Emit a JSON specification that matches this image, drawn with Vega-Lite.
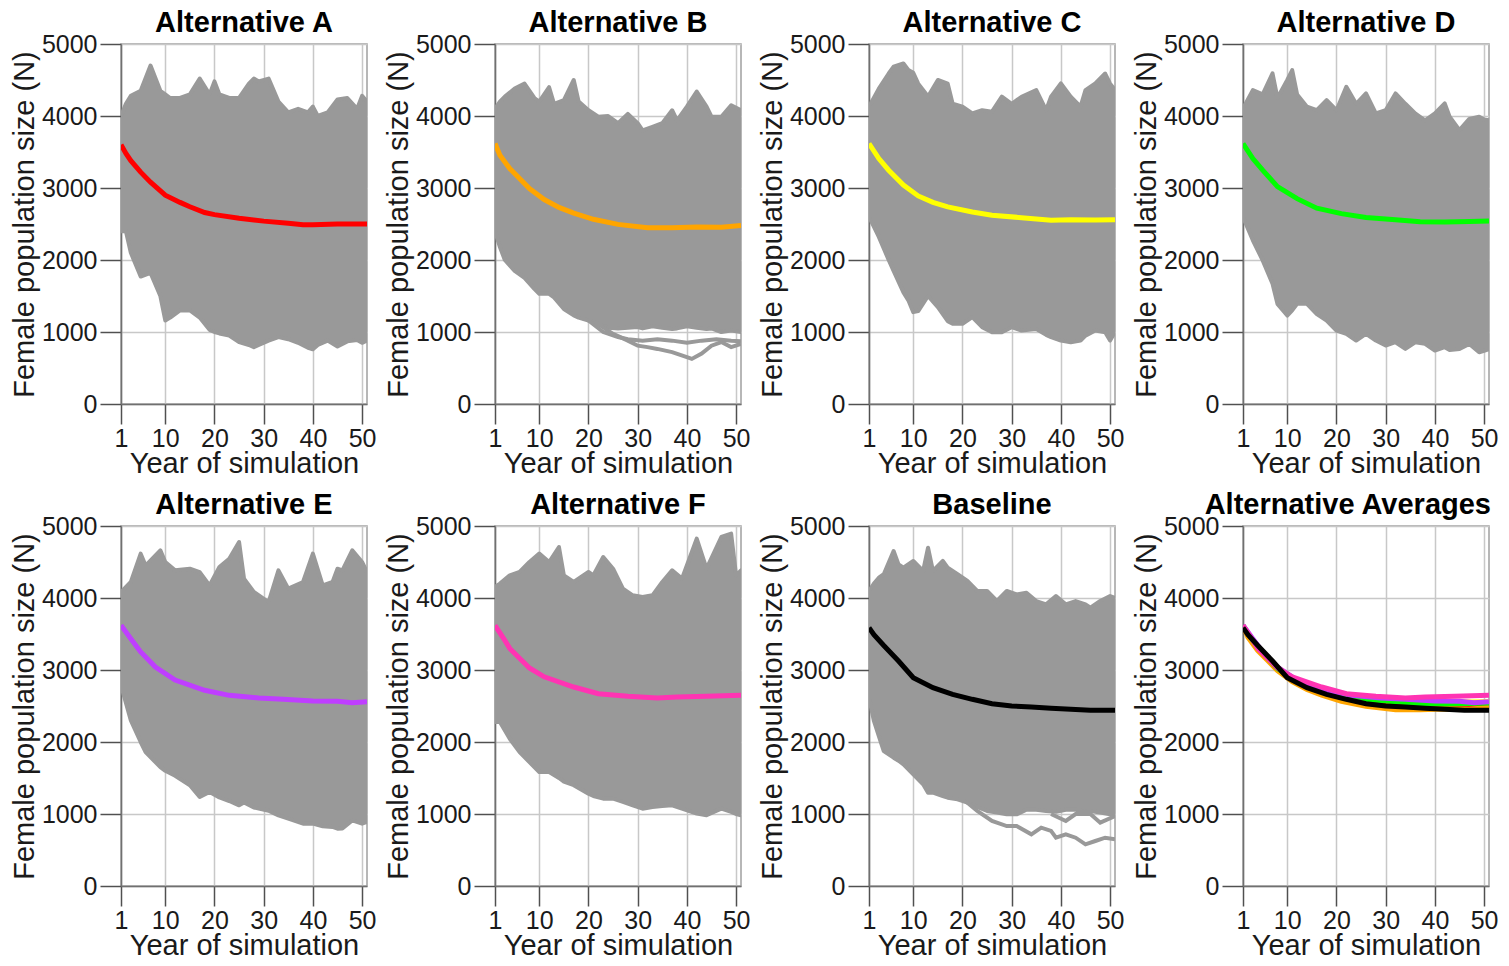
{
"$schema": "https://vega.github.io/schema/vega-lite/v6.json",
"background": "white",
"padding": {"left": 9, "top": 8, "right": 5, "bottom": 5},
"config": {
 "font": "Liberation Sans",
 "view": {"stroke": "#a0a0a0", "strokeWidth": 1.5},
 "axis": {"grid": true, "gridColor": "#c8c8c8", "gridWidth": 1.5, "domain": true, "domainColor": "#707070", "domainWidth": 1.5, "tickColor": "#505050", "tickWidth": 1.5, "labelFontSize": 25, "labelColor": "#1a1a1a", "titleFontSize": 29, "titleFontWeight": "normal", "titleColor": "#1a1a1a", "labelFlush": false, "labelOverlap": false},
 "axisX": {"tickSize": 20, "labelPadding": 2, "titlePadding": -2},
 "axisY": {"tickSize": 21, "labelPadding": 3, "titlePadding": 2},
 "title": {"fontSize": 29, "fontWeight": "bold", "color": "#000000", "offset": -6, "anchor": "middle", "frame": "group"}
},
"datasets": {
 "band": [
  {"p":"A","year":1,"lo":2400,"hi":4000},{"p":"A","year":2,"lo":2400,"hi":4170},{"p":"A","year":3,"lo":2100,"hi":4280},{"p":"A","year":5,"lo":1770,"hi":4350},{"p":"A","year":7,"lo":1820,"hi":4700},{"p":"A","year":9,"lo":1500,"hi":4350},{"p":"A","year":10,"lo":1160,"hi":4300},{"p":"A","year":11,"lo":1200,"hi":4250},{"p":"A","year":13,"lo":1300,"hi":4250},{"p":"A","year":15,"lo":1300,"hi":4300},{"p":"A","year":17,"lo":1200,"hi":4520},{"p":"A","year":19,"lo":1030,"hi":4300},{"p":"A","year":20,"lo":1000,"hi":4480},{"p":"A","year":21,"lo":980,"hi":4300},{"p":"A","year":23,"lo":950,"hi":4250},{"p":"A","year":25,"lo":860,"hi":4250},{"p":"A","year":27,"lo":820,"hi":4450},{"p":"A","year":28,"lo":790,"hi":4520},{"p":"A","year":29,"lo":820,"hi":4480},{"p":"A","year":31,"lo":880,"hi":4520},{"p":"A","year":33,"lo":930,"hi":4200},{"p":"A","year":35,"lo":900,"hi":4050},{"p":"A","year":37,"lo":850,"hi":4100},{"p":"A","year":39,"lo":780,"hi":4050},{"p":"A","year":40,"lo":760,"hi":4130},{"p":"A","year":41,"lo":820,"hi":4000},{"p":"A","year":43,"lo":880,"hi":4050},{"p":"A","year":45,"lo":800,"hi":4230},{"p":"A","year":47,"lo":870,"hi":4250},{"p":"A","year":49,"lo":890,"hi":4100},{"p":"A","year":50,"lo":850,"hi":4280},{"p":"A","year":51,"lo":880,"hi":4200},
  {"p":"B","year":1,"lo":2400,"hi":4100},{"p":"B","year":2,"lo":2180,"hi":4200},{"p":"B","year":3,"lo":2000,"hi":4270},{"p":"B","year":5,"lo":1850,"hi":4380},{"p":"B","year":7,"lo":1750,"hi":4450},{"p":"B","year":9,"lo":1600,"hi":4250},{"p":"B","year":10,"lo":1530,"hi":4200},{"p":"B","year":12,"lo":1530,"hi":4400},{"p":"B","year":13,"lo":1480,"hi":4170},{"p":"B","year":15,"lo":1320,"hi":4220},{"p":"B","year":17,"lo":1230,"hi":4500},{"p":"B","year":18,"lo":1200,"hi":4200},{"p":"B","year":20,"lo":1160,"hi":4080},{"p":"B","year":22,"lo":1110,"hi":3990},{"p":"B","year":24,"lo":1060,"hi":4000},{"p":"B","year":26,"lo":1050,"hi":3900},{"p":"B","year":28,"lo":1060,"hi":4030},{"p":"B","year":30,"lo":1070,"hi":3900},{"p":"B","year":31,"lo":1050,"hi":3800},{"p":"B","year":33,"lo":1080,"hi":3850},{"p":"B","year":35,"lo":1060,"hi":3900},{"p":"B","year":37,"lo":1040,"hi":4080},{"p":"B","year":38,"lo":1050,"hi":3940},{"p":"B","year":40,"lo":1080,"hi":4130},{"p":"B","year":42,"lo":1060,"hi":4340},{"p":"B","year":44,"lo":1040,"hi":4130},{"p":"B","year":45,"lo":1050,"hi":3990},{"p":"B","year":47,"lo":1000,"hi":3990},{"p":"B","year":49,"lo":1020,"hi":4150},{"p":"B","year":51,"lo":1000,"hi":4080},
  {"p":"C","year":1,"lo":2600,"hi":4130},{"p":"C","year":3,"lo":2320,"hi":4380},{"p":"C","year":5,"lo":2000,"hi":4590},{"p":"C","year":6,"lo":1850,"hi":4685},{"p":"C","year":8,"lo":1550,"hi":4730},{"p":"C","year":9,"lo":1440,"hi":4640},{"p":"C","year":10,"lo":1276,"hi":4600},{"p":"C","year":11,"lo":1290,"hi":4450},{"p":"C","year":13,"lo":1500,"hi":4270},{"p":"C","year":15,"lo":1345,"hi":4500},{"p":"C","year":17,"lo":1150,"hi":4450},{"p":"C","year":18,"lo":1113,"hi":4170},{"p":"C","year":20,"lo":1113,"hi":4130},{"p":"C","year":22,"lo":1206,"hi":4035},{"p":"C","year":24,"lo":1067,"hi":4080},{"p":"C","year":26,"lo":997,"hi":4060},{"p":"C","year":28,"lo":997,"hi":4270},{"p":"C","year":30,"lo":1067,"hi":4170},{"p":"C","year":32,"lo":1020,"hi":4267},{"p":"C","year":35,"lo":1040,"hi":4360},{"p":"C","year":37,"lo":960,"hi":4080},{"p":"C","year":38,"lo":928,"hi":4267},{"p":"C","year":40,"lo":881,"hi":4453},{"p":"C","year":42,"lo":858,"hi":4267},{"p":"C","year":44,"lo":881,"hi":4130},{"p":"C","year":45,"lo":950,"hi":4360},{"p":"C","year":47,"lo":1020,"hi":4453},{"p":"C","year":49,"lo":997,"hi":4590},{"p":"C","year":50,"lo":881,"hi":4450},{"p":"C","year":51,"lo":1000,"hi":4360},
  {"p":"D","year":1,"lo":2597,"hi":4105},{"p":"D","year":3,"lo":2273,"hi":4360},{"p":"D","year":5,"lo":1995,"hi":4300},{"p":"D","year":7,"lo":1670,"hi":4592},{"p":"D","year":8,"lo":1391,"hi":4250},{"p":"D","year":10,"lo":1229,"hi":4500},{"p":"D","year":11,"lo":1300,"hi":4638},{"p":"D","year":12,"lo":1391,"hi":4300},{"p":"D","year":14,"lo":1391,"hi":4130},{"p":"D","year":16,"lo":1250,"hi":4080},{"p":"D","year":18,"lo":1160,"hi":4220},{"p":"D","year":20,"lo":1020,"hi":4080},{"p":"D","year":22,"lo":974,"hi":4406},{"p":"D","year":24,"lo":881,"hi":4170},{"p":"D","year":26,"lo":974,"hi":4313},{"p":"D","year":28,"lo":881,"hi":4035},{"p":"D","year":30,"lo":812,"hi":4080},{"p":"D","year":32,"lo":858,"hi":4313},{"p":"D","year":34,"lo":765,"hi":4170},{"p":"D","year":36,"lo":858,"hi":4035},{"p":"D","year":38,"lo":835,"hi":3940},{"p":"D","year":40,"lo":742,"hi":4035},{"p":"D","year":42,"lo":789,"hi":4174},{"p":"D","year":43,"lo":750,"hi":3990},{"p":"D","year":45,"lo":765,"hi":3803},{"p":"D","year":47,"lo":835,"hi":3960},{"p":"D","year":49,"lo":719,"hi":3990},{"p":"D","year":50,"lo":740,"hi":3950},{"p":"D","year":51,"lo":760,"hi":3940},
  {"p":"E","year":1,"lo":2787,"hi":4083},{"p":"E","year":3,"lo":2300,"hi":4222},{"p":"E","year":5,"lo":2000,"hi":4616},{"p":"E","year":6,"lo":1861,"hi":4450},{"p":"E","year":9,"lo":1650,"hi":4662},{"p":"E","year":10,"lo":1600,"hi":4500},{"p":"E","year":12,"lo":1530,"hi":4384},{"p":"E","year":15,"lo":1400,"hi":4407},{"p":"E","year":17,"lo":1236,"hi":4360},{"p":"E","year":19,"lo":1306,"hi":4176},{"p":"E","year":21,"lo":1230,"hi":4430},{"p":"E","year":23,"lo":1180,"hi":4546},{"p":"E","year":25,"lo":1120,"hi":4778},{"p":"E","year":26,"lo":1160,"hi":4269},{"p":"E","year":28,"lo":1090,"hi":4083},{"p":"E","year":31,"lo":1045,"hi":3944},{"p":"E","year":33,"lo":981,"hi":4384},{"p":"E","year":35,"lo":935,"hi":4130},{"p":"E","year":38,"lo":866,"hi":4222},{"p":"E","year":40,"lo":866,"hi":4616},{"p":"E","year":42,"lo":830,"hi":4176},{"p":"E","year":44,"lo":820,"hi":4222},{"p":"E","year":45,"lo":796,"hi":4407},{"p":"E","year":46,"lo":800,"hi":4384},{"p":"E","year":48,"lo":912,"hi":4662},{"p":"E","year":50,"lo":866,"hi":4500},{"p":"E","year":51,"lo":889,"hi":4361},
  {"p":"F","year":1,"lo":2278,"hi":4153},{"p":"F","year":2,"lo":2278,"hi":4200},{"p":"F","year":4,"lo":2046,"hi":4315},{"p":"F","year":6,"lo":1861,"hi":4361},{"p":"F","year":8,"lo":1722,"hi":4500},{"p":"F","year":10,"lo":1583,"hi":4616},{"p":"F","year":12,"lo":1583,"hi":4500},{"p":"F","year":14,"lo":1500,"hi":4708},{"p":"F","year":15,"lo":1450,"hi":4315},{"p":"F","year":17,"lo":1400,"hi":4222},{"p":"F","year":20,"lo":1282,"hi":4361},{"p":"F","year":21,"lo":1250,"hi":4315},{"p":"F","year":23,"lo":1213,"hi":4569},{"p":"F","year":25,"lo":1213,"hi":4407},{"p":"F","year":27,"lo":1167,"hi":4130},{"p":"F","year":29,"lo":1120,"hi":4037},{"p":"F","year":31,"lo":1074,"hi":4014},{"p":"F","year":33,"lo":1097,"hi":4037},{"p":"F","year":35,"lo":1110,"hi":4222},{"p":"F","year":37,"lo":1120,"hi":4384},{"p":"F","year":39,"lo":1074,"hi":4269},{"p":"F","year":42,"lo":1005,"hi":4824},{"p":"F","year":44,"lo":982,"hi":4407},{"p":"F","year":47,"lo":1074,"hi":4847},{"p":"F","year":49,"lo":1030,"hi":4894},{"p":"F","year":50,"lo":1000,"hi":4315},{"p":"F","year":51,"lo":981,"hi":4384},
  {"p":"G","year":1,"lo":2616,"hi":4097},{"p":"G","year":2,"lo":2292,"hi":4200},{"p":"G","year":3,"lo":2080,"hi":4282},{"p":"G","year":4,"lo":1875,"hi":4330},{"p":"G","year":6,"lo":1782,"hi":4653},{"p":"G","year":7,"lo":1740,"hi":4467},{"p":"G","year":8,"lo":1690,"hi":4420},{"p":"G","year":10,"lo":1551,"hi":4514},{"p":"G","year":12,"lo":1412,"hi":4375},{"p":"G","year":13,"lo":1296,"hi":4699},{"p":"G","year":14,"lo":1296,"hi":4375},{"p":"G","year":16,"lo":1250,"hi":4514},{"p":"G","year":17,"lo":1227,"hi":4420},{"p":"G","year":19,"lo":1204,"hi":4330},{"p":"G","year":21,"lo":1157,"hi":4236},{"p":"G","year":23,"lo":1100,"hi":4097},{"p":"G","year":25,"lo":1042,"hi":4097},{"p":"G","year":27,"lo":1020,"hi":3958},{"p":"G","year":29,"lo":995,"hi":4097},{"p":"G","year":31,"lo":995,"hi":4050},{"p":"G","year":33,"lo":1060,"hi":4074},{"p":"G","year":35,"lo":1060,"hi":3958},{"p":"G","year":37,"lo":1040,"hi":3912},{"p":"G","year":39,"lo":1030,"hi":4028},{"p":"G","year":41,"lo":1060,"hi":3912},{"p":"G","year":43,"lo":1060,"hi":3958},{"p":"G","year":45,"lo":1030,"hi":3912},{"p":"G","year":46,"lo":1042,"hi":3866},{"p":"G","year":48,"lo":1020,"hi":3958},{"p":"G","year":50,"lo":995,"hi":4028},{"p":"G","year":51,"lo":1000,"hi":4000}
 ],
 "out": [
  {"p":"B","id":"B1","year":22,"n":1110},{"p":"B","id":"B1","year":25,"n":975},{"p":"B","id":"B1","year":28,"n":880},{"p":"B","id":"B1","year":30,"n":810},{"p":"B","id":"B1","year":32,"n":790},{"p":"B","id":"B1","year":34,"n":765},{"p":"B","id":"B1","year":37,"n":720},{"p":"B","id":"B1","year":40,"n":650},{"p":"B","id":"B1","year":41,"n":626},{"p":"B","id":"B1","year":43,"n":700},{"p":"B","id":"B1","year":45,"n":810},{"p":"B","id":"B1","year":47,"n":860},{"p":"B","id":"B1","year":49,"n":790},{"p":"B","id":"B1","year":51,"n":835},
  {"p":"B","id":"B2","year":20,"n":1160},{"p":"B","id":"B2","year":23,"n":1000},{"p":"B","id":"B2","year":26,"n":930},{"p":"B","id":"B2","year":28,"n":900},{"p":"B","id":"B2","year":31,"n":880},{"p":"B","id":"B2","year":34,"n":900},{"p":"B","id":"B2","year":37,"n":880},{"p":"B","id":"B2","year":40,"n":850},{"p":"B","id":"B2","year":43,"n":880},{"p":"B","id":"B2","year":46,"n":900},{"p":"B","id":"B2","year":49,"n":880},{"p":"B","id":"B2","year":51,"n":870},
  {"p":"G","id":"G1","year":21,"n":1157},{"p":"G","id":"G1","year":23,"n":1042},{"p":"G","id":"G1","year":26,"n":903},{"p":"G","id":"G1","year":29,"n":833},{"p":"G","id":"G1","year":31,"n":833},{"p":"G","id":"G1","year":34,"n":718},{"p":"G","id":"G1","year":36,"n":810},{"p":"G","id":"G1","year":38,"n":765},{"p":"G","id":"G1","year":39,"n":671},{"p":"G","id":"G1","year":41,"n":718},{"p":"G","id":"G1","year":43,"n":671},{"p":"G","id":"G1","year":45,"n":579},{"p":"G","id":"G1","year":47,"n":625},{"p":"G","id":"G1","year":49,"n":671},{"p":"G","id":"G1","year":51,"n":648},
  {"p":"G","id":"G2","year":38,"n":1000},{"p":"G","id":"G2","year":41,"n":903},{"p":"G","id":"G2","year":43,"n":1000},{"p":"G","id":"G2","year":46,"n":1000},{"p":"G","id":"G2","year":48,"n":880},{"p":"G","id":"G2","year":51,"n":970}
 ],
 "mean": [
  {"s":"A","year":1,"n":3600},{"s":"A","year":2,"n":3480},{"s":"A","year":3,"n":3380},{"s":"A","year":5,"n":3220},{"s":"A","year":7,"n":3080},{"s":"A","year":10,"n":2900},{"s":"A","year":13,"n":2800},{"s":"A","year":15,"n":2740},{"s":"A","year":18,"n":2660},{"s":"A","year":20,"n":2630},{"s":"A","year":25,"n":2580},{"s":"A","year":30,"n":2540},{"s":"A","year":35,"n":2510},{"s":"A","year":38,"n":2490},{"s":"A","year":40,"n":2490},{"s":"A","year":45,"n":2500},{"s":"A","year":50,"n":2500},{"s":"A","year":51,"n":2500},
  {"s":"B","year":1,"n":3618},{"s":"B","year":2,"n":3455},{"s":"B","year":4,"n":3270},{"s":"B","year":5,"n":3200},{"s":"B","year":8,"n":2992},{"s":"B","year":11,"n":2840},{"s":"B","year":14,"n":2730},{"s":"B","year":17,"n":2650},{"s":"B","year":21,"n":2565},{"s":"B","year":26,"n":2495},{"s":"B","year":32,"n":2449},{"s":"B","year":37,"n":2449},{"s":"B","year":42,"n":2458},{"s":"B","year":47,"n":2455},{"s":"B","year":51,"n":2481},
  {"s":"C","year":1,"n":3618},{"s":"C","year":3,"n":3409},{"s":"C","year":5,"n":3247},{"s":"C","year":8,"n":3040},{"s":"C","year":11,"n":2890},{"s":"C","year":14,"n":2800},{"s":"C","year":17,"n":2737},{"s":"C","year":22,"n":2667},{"s":"C","year":26,"n":2621},{"s":"C","year":32,"n":2588},{"s":"C","year":38,"n":2551},{"s":"C","year":42,"n":2560},{"s":"C","year":47,"n":2556},{"s":"C","year":51,"n":2560},
  {"s":"D","year":1,"n":3618},{"s":"D","year":3,"n":3409},{"s":"D","year":5,"n":3247},{"s":"D","year":8,"n":3020},{"s":"D","year":12,"n":2852},{"s":"D","year":16,"n":2720},{"s":"D","year":21,"n":2644},{"s":"D","year":26,"n":2590},{"s":"D","year":32,"n":2560},{"s":"D","year":37,"n":2530},{"s":"D","year":42,"n":2528},{"s":"D","year":47,"n":2535},{"s":"D","year":51,"n":2542},
  {"s":"E","year":1,"n":3620},{"s":"E","year":3,"n":3435},{"s":"E","year":5,"n":3250},{"s":"E","year":8,"n":3040},{"s":"E","year":12,"n":2860},{"s":"E","year":18,"n":2718},{"s":"E","year":23,"n":2648},{"s":"E","year":29,"n":2611},{"s":"E","year":34,"n":2593},{"s":"E","year":40,"n":2569},{"s":"E","year":45,"n":2565},{"s":"E","year":48,"n":2546},{"s":"E","year":51,"n":2560},
  {"s":"F","year":1,"n":3620},{"s":"F","year":3,"n":3412},{"s":"F","year":4,"n":3300},{"s":"F","year":8,"n":3028},{"s":"F","year":11,"n":2905},{"s":"F","year":17,"n":2764},{"s":"F","year":22,"n":2671},{"s":"F","year":28,"n":2634},{"s":"F","year":34,"n":2611},{"s":"F","year":38,"n":2625},{"s":"F","year":44,"n":2634},{"s":"F","year":51,"n":2648},
  {"s":"G","year":1,"n":3588},{"s":"G","year":2,"n":3490},{"s":"G","year":4,"n":3340},{"s":"G","year":7,"n":3125},{"s":"G","year":10,"n":2894},{"s":"G","year":14,"n":2755},{"s":"G","year":18,"n":2662},{"s":"G","year":22,"n":2593},{"s":"G","year":26,"n":2532},{"s":"G","year":30,"n":2500},{"s":"G","year":34,"n":2485},{"s":"G","year":38,"n":2468},{"s":"G","year":42,"n":2454},{"s":"G","year":46,"n":2440},{"s":"G","year":51,"n":2440}
 ]
},
"columns": 4,
"spacing": {"row": 11, "column": 6},
"concat": [
 {"title": "Alternative A", "width": 246, "height": 360,
  "encoding": {"x": {"field": "year", "type": "quantitative", "title": "Year of simulation", "scale": {"domain": [1, 51], "nice": false, "zero": false}, "axis": {"values": [1, 10, 20, 30, 40, 50]}}},
  "layer": [
   {"data": {"name": "band"}, "transform": [{"filter": "datum.p === 'A'"}], "mark": {"type": "area", "fill": "#999999", "stroke": "#999999", "strokeWidth": 4, "strokeJoin": "round", "clip": true}, "encoding": {"y": {"field": "hi", "type": "quantitative", "title": "Female population size (N)", "scale": {"domain": [0, 5000]}, "axis": {"values": [0, 1000, 2000, 3000, 4000, 5000], "format": "d"}}, "y2": {"field": "lo"}}},
   {"data": {"name": "mean"}, "transform": [{"filter": "datum.s === 'A'"}], "mark": {"type": "line", "color": "#ff0000", "strokeWidth": 5, "clip": true}, "encoding": {"y": {"field": "n", "type": "quantitative", "title": "Female population size (N)", "axis": {"values": [0, 1000, 2000, 3000, 4000, 5000], "format": "d"}}}}
  ]},
 {"title": "Alternative B", "width": 246, "height": 360,
  "encoding": {"x": {"field": "year", "type": "quantitative", "title": "Year of simulation", "scale": {"domain": [1, 51], "nice": false, "zero": false}, "axis": {"values": [1, 10, 20, 30, 40, 50]}}},
  "layer": [
   {"data": {"name": "band"}, "transform": [{"filter": "datum.p === 'B'"}], "mark": {"type": "area", "fill": "#999999", "stroke": "#999999", "strokeWidth": 4, "strokeJoin": "round", "clip": true}, "encoding": {"y": {"field": "hi", "type": "quantitative", "title": "Female population size (N)", "scale": {"domain": [0, 5000]}, "axis": {"values": [0, 1000, 2000, 3000, 4000, 5000], "format": "d"}}, "y2": {"field": "lo"}}},
   {"data": {"name": "out"}, "transform": [{"filter": "datum.p === 'B'"}], "mark": {"type": "line", "color": "#999999", "strokeWidth": 4, "clip": true}, "encoding": {"detail": {"field": "id"}, "y": {"field": "n", "type": "quantitative", "title": "Female population size (N)", "axis": {"values": [0, 1000, 2000, 3000, 4000, 5000], "format": "d"}}}},
   {"data": {"name": "mean"}, "transform": [{"filter": "datum.s === 'B'"}], "mark": {"type": "line", "color": "#ffa500", "strokeWidth": 5, "clip": true}, "encoding": {"y": {"field": "n", "type": "quantitative", "title": "Female population size (N)", "axis": {"values": [0, 1000, 2000, 3000, 4000, 5000], "format": "d"}}}}
  ]},
 {"title": "Alternative C", "width": 246, "height": 360,
  "encoding": {"x": {"field": "year", "type": "quantitative", "title": "Year of simulation", "scale": {"domain": [1, 51], "nice": false, "zero": false}, "axis": {"values": [1, 10, 20, 30, 40, 50]}}},
  "layer": [
   {"data": {"name": "band"}, "transform": [{"filter": "datum.p === 'C'"}], "mark": {"type": "area", "fill": "#999999", "stroke": "#999999", "strokeWidth": 4, "strokeJoin": "round", "clip": true}, "encoding": {"y": {"field": "hi", "type": "quantitative", "title": "Female population size (N)", "scale": {"domain": [0, 5000]}, "axis": {"values": [0, 1000, 2000, 3000, 4000, 5000], "format": "d"}}, "y2": {"field": "lo"}}},
   {"data": {"name": "mean"}, "transform": [{"filter": "datum.s === 'C'"}], "mark": {"type": "line", "color": "#ffff00", "strokeWidth": 5, "clip": true}, "encoding": {"y": {"field": "n", "type": "quantitative", "title": "Female population size (N)", "axis": {"values": [0, 1000, 2000, 3000, 4000, 5000], "format": "d"}}}}
  ]},
 {"title": "Alternative D", "width": 246, "height": 360,
  "encoding": {"x": {"field": "year", "type": "quantitative", "title": "Year of simulation", "scale": {"domain": [1, 51], "nice": false, "zero": false}, "axis": {"values": [1, 10, 20, 30, 40, 50]}}},
  "layer": [
   {"data": {"name": "band"}, "transform": [{"filter": "datum.p === 'D'"}], "mark": {"type": "area", "fill": "#999999", "stroke": "#999999", "strokeWidth": 4, "strokeJoin": "round", "clip": true}, "encoding": {"y": {"field": "hi", "type": "quantitative", "title": "Female population size (N)", "scale": {"domain": [0, 5000]}, "axis": {"values": [0, 1000, 2000, 3000, 4000, 5000], "format": "d"}}, "y2": {"field": "lo"}}},
   {"data": {"name": "mean"}, "transform": [{"filter": "datum.s === 'D'"}], "mark": {"type": "line", "color": "#00ff00", "strokeWidth": 5, "clip": true}, "encoding": {"y": {"field": "n", "type": "quantitative", "title": "Female population size (N)", "axis": {"values": [0, 1000, 2000, 3000, 4000, 5000], "format": "d"}}}}
  ]},
 {"title": "Alternative E", "width": 246, "height": 360,
  "encoding": {"x": {"field": "year", "type": "quantitative", "title": "Year of simulation", "scale": {"domain": [1, 51], "nice": false, "zero": false}, "axis": {"values": [1, 10, 20, 30, 40, 50]}}},
  "layer": [
   {"data": {"name": "band"}, "transform": [{"filter": "datum.p === 'E'"}], "mark": {"type": "area", "fill": "#999999", "stroke": "#999999", "strokeWidth": 4, "strokeJoin": "round", "clip": true}, "encoding": {"y": {"field": "hi", "type": "quantitative", "title": "Female population size (N)", "scale": {"domain": [0, 5000]}, "axis": {"values": [0, 1000, 2000, 3000, 4000, 5000], "format": "d"}}, "y2": {"field": "lo"}}},
   {"data": {"name": "mean"}, "transform": [{"filter": "datum.s === 'E'"}], "mark": {"type": "line", "color": "#bf3eff", "strokeWidth": 5, "clip": true}, "encoding": {"y": {"field": "n", "type": "quantitative", "title": "Female population size (N)", "axis": {"values": [0, 1000, 2000, 3000, 4000, 5000], "format": "d"}}}}
  ]},
 {"title": "Alternative F", "width": 246, "height": 360,
  "encoding": {"x": {"field": "year", "type": "quantitative", "title": "Year of simulation", "scale": {"domain": [1, 51], "nice": false, "zero": false}, "axis": {"values": [1, 10, 20, 30, 40, 50]}}},
  "layer": [
   {"data": {"name": "band"}, "transform": [{"filter": "datum.p === 'F'"}], "mark": {"type": "area", "fill": "#999999", "stroke": "#999999", "strokeWidth": 4, "strokeJoin": "round", "clip": true}, "encoding": {"y": {"field": "hi", "type": "quantitative", "title": "Female population size (N)", "scale": {"domain": [0, 5000]}, "axis": {"values": [0, 1000, 2000, 3000, 4000, 5000], "format": "d"}}, "y2": {"field": "lo"}}},
   {"data": {"name": "mean"}, "transform": [{"filter": "datum.s === 'F'"}], "mark": {"type": "line", "color": "#ff34b3", "strokeWidth": 5, "clip": true}, "encoding": {"y": {"field": "n", "type": "quantitative", "title": "Female population size (N)", "axis": {"values": [0, 1000, 2000, 3000, 4000, 5000], "format": "d"}}}}
  ]},
 {"title": "Baseline", "width": 246, "height": 360,
  "encoding": {"x": {"field": "year", "type": "quantitative", "title": "Year of simulation", "scale": {"domain": [1, 51], "nice": false, "zero": false}, "axis": {"values": [1, 10, 20, 30, 40, 50]}}},
  "layer": [
   {"data": {"name": "band"}, "transform": [{"filter": "datum.p === 'G'"}], "mark": {"type": "area", "fill": "#999999", "stroke": "#999999", "strokeWidth": 4, "strokeJoin": "round", "clip": true}, "encoding": {"y": {"field": "hi", "type": "quantitative", "title": "Female population size (N)", "scale": {"domain": [0, 5000]}, "axis": {"values": [0, 1000, 2000, 3000, 4000, 5000], "format": "d"}}, "y2": {"field": "lo"}}},
   {"data": {"name": "out"}, "transform": [{"filter": "datum.p === 'G'"}], "mark": {"type": "line", "color": "#999999", "strokeWidth": 4, "clip": true}, "encoding": {"detail": {"field": "id"}, "y": {"field": "n", "type": "quantitative", "title": "Female population size (N)", "axis": {"values": [0, 1000, 2000, 3000, 4000, 5000], "format": "d"}}}},
   {"data": {"name": "mean"}, "transform": [{"filter": "datum.s === 'G'"}], "mark": {"type": "line", "color": "#000000", "strokeWidth": 5, "clip": true}, "encoding": {"y": {"field": "n", "type": "quantitative", "title": "Female population size (N)", "axis": {"values": [0, 1000, 2000, 3000, 4000, 5000], "format": "d"}}}}
  ]},
 {"title": {"text": "Alternative Averages", "anchor": "end", "dx": 2}, "width": 246, "height": 360,
  "data": {"name": "mean"},
  "mark": {"type": "line", "strokeWidth": 5, "clip": true},
  "encoding": {
   "x": {"field": "year", "type": "quantitative", "title": "Year of simulation", "scale": {"domain": [1, 51], "nice": false, "zero": false}, "axis": {"values": [1, 10, 20, 30, 40, 50]}},
   "y": {"field": "n", "type": "quantitative", "title": "Female population size (N)", "scale": {"domain": [0, 5000]}, "axis": {"values": [0, 1000, 2000, 3000, 4000, 5000], "format": "d"}},
   "color": {"field": "s", "type": "nominal", "legend": null, "scale": {"domain": ["A", "B", "C", "D", "E", "F", "G"], "range": ["#ff0000", "#ffa500", "#ffff00", "#00ff00", "#bf3eff", "#ff34b3", "#000000"]}}
  }}
]
}
